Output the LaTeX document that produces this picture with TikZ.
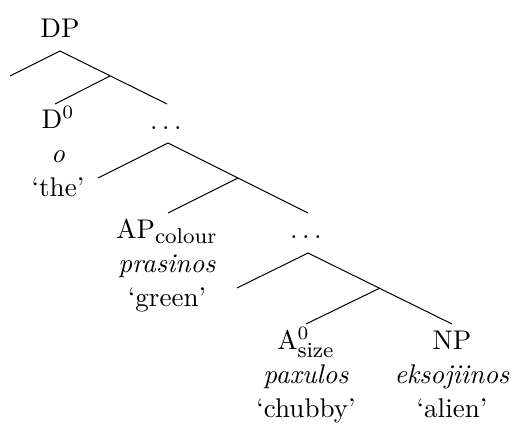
\documentclass[tikz,border=0pt]{standalone}
\begin{document}
\begin{tikzpicture}[x=0.37pt, y=-0.37pt, line width=0.37pt,
        lbl/.style={anchor=base, inner sep=0pt, font=\normalsize}]
        \useasboundingbox (0,0) rectangle (516,426);

        % Branch points of the tree
        \coordinate (dp-top) at (60,51);
        \coordinate (spec1) at (10,76);
        \coordinate (bar1) at (110,76);
        \coordinate (d-top) at (55,104);
        \coordinate (dots1-bot) at (167,104);
        \coordinate (dots1-top) at (168,143);
        \coordinate (spec2) at (98,178);
        \coordinate (bar2) at (238,178);
        \coordinate (ap-top) at (168,213);
        \coordinate (dots2-bot) at (308,213);
        \coordinate (dots2-top) at (308,253);
        \coordinate (spec3) at (237,288);
        \coordinate (bar3) at (380,288);
        \coordinate (a-top) at (306,324);
        \coordinate (np-top) at (452,324);

        % Draw the branches
        \draw (spec1) -- (dp-top) -- (dots1-bot);
        \draw (bar1) -- (d-top);
        \draw (spec2) -- (dots1-top) -- (dots2-bot);
        \draw (bar2) -- (ap-top);
        \draw (spec3) -- (dots2-top) -- (np-top);
        \draw (bar3) -- (a-top);

        % Add labels
        \node[lbl] (dp) at (60,37) {DP};
        \node[lbl] (dots1) at (166,129.5) {$\ldots$};
        \node[lbl] (dots2) at (306,238.5) {$\ldots$};

        % Leaves: category, word, gloss
        \foreach \name/\x/\y/\cat/\word/\gloss in {
                d/58/128/D$^0$/o/`the',
                ap/167/238/AP$_{\mbox{\footnotesize colour}}$/prasinos/`green',
                a/306/349/A$^0_{\mbox{\footnotesize size}}$/paxulos/`chubby',
                np/452/349/NP/eksojiinos/`alien'} {
                \node[lbl] (\name) at (\x,\y) {\cat};
                \node[lbl] (\name-w) at (\x,\y+34) {\textit{\word}};
                \node[lbl] (\name-g) at (\x,\y+68) {\gloss};
            }
    \end{tikzpicture}
\end{document}
